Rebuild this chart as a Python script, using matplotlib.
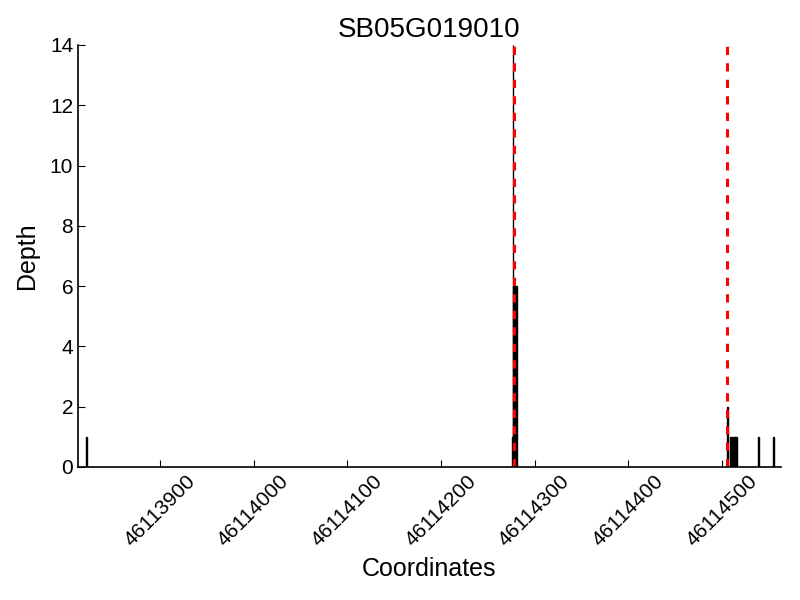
import matplotlib
matplotlib.use("Agg")
import matplotlib.pyplot as plt

plt.rcParams['font.family'] = ['Liberation Sans', 'DejaVu Sans']

# read depth per coordinate
coords = [46113822, 46114276, 46114277, 46114278, 46114279, 46114280, 46114281,
          46114506, 46114509, 46114510, 46114512, 46114513, 46114514, 46114515,
          46114516, 46114539, 46114555]
depth = [1, 1, 14, 6, 6, 6, 6,
         2, 1, 1, 1, 1, 1, 1,
         1, 1, 1]

# feature boundaries
marks = [46114278, 46114506]

xticks = [46113900, 46114000, 46114100, 46114200, 46114300, 46114400, 46114500]

fig = plt.figure(figsize=(8, 6), dpi=100)
ax = fig.add_axes([0.0975, 0.2217, 0.8785, 0.7033])

ax.bar(coords, depth, width=1, color='black', edgecolor='black', linewidth=1)
for m in marks:
    ax.axvline(m, color='red', linestyle='--', linewidth=2.2, dashes=(2.7, 2.7))

ax.set_xlim(46113812.5, 46114563)
ax.set_ylim(0, 14)
ax.set_xticks(xticks)
ax.set_xticklabels([str(t) for t in xticks], rotation=45, fontsize=15)
ax.set_yticks(range(0, 15, 2))
ax.tick_params(axis='y', labelsize=15)
ax.tick_params(direction='in', length=5, top=False, right=False)
ax.spines['top'].set_visible(False)
ax.spines['right'].set_visible(False)
ax.spines['left'].set_linewidth(1.2)
ax.spines['bottom'].set_linewidth(1.2)

ax.set_title("SB05G019010", fontsize=20)
ax.set_xlabel("Coordinates", fontsize=18, labelpad=5)
ax.set_ylabel("Depth", fontsize=18, labelpad=8)

fig.savefig("out.png", dpi=100)
